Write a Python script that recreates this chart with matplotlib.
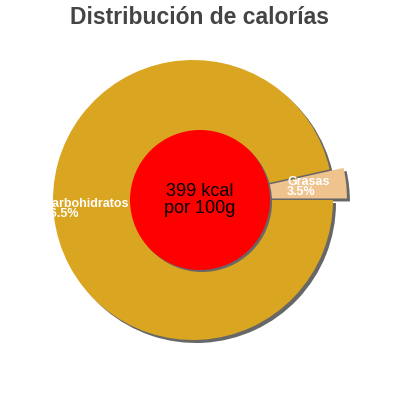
import matplotlib
matplotlib.use("Agg")
from matplotlib import pyplot as plt
from matplotlib.patches import Circle
import numpy as np

# calorie split per 100 g
labels = ["Grasas", "Carbohidratos"]
shares = [3.5, 96.5]
colors = ["#EFC38E", "#DAA520"]
total_kcal = 399

plt.rcParams['font.family'] = ['Liberation Sans', 'DejaVu Sans']

fig = plt.figure(figsize=(4, 4), dpi=100)
ax = fig.add_axes([0, 0, 1, 1])

center = (193, 200)
radius = 140
explode = [14, 0]
shadow_off = (3, -3)

# grey shadow underneath
ax.pie(shares, explode=explode, startangle=0, radius=radius,
       center=(center[0] + shadow_off[0], center[1] + shadow_off[1]),
       colors=["#676767"] * len(shares), wedgeprops=dict(linewidth=0))
wedges, _ = ax.pie(shares, explode=explode, startangle=0, radius=radius,
                   center=center, colors=colors, wedgeprops=dict(linewidth=0))

# red centre disc with its shadow
ax.add_patch(Circle((202, 198), 70, color="#676767", lw=0, zorder=3))
ax.add_patch(Circle((200, 200), 70, color="#FF0000", lw=0, zorder=4))
ax.text(200, 200, "{} kcal\npor 100g".format(total_kcal), ha="center", va="center",
        fontsize=13, color="black", zorder=5, linespacing=1.0)

# slice labels
label_pos = [(287, 213), (44, 191)]
for lab, val, (lx, ly) in zip(labels, shares, label_pos):
    ax.text(lx, ly, "{}\n{}%".format(lab, val), ha="left", va="center",
            fontsize=9, fontweight="bold", color="white", zorder=6, linespacing=0.85)

ax.text(200, 382, "Distribución de calorías", ha="center", va="center",
        fontsize=16.5, fontweight="bold", color="#444444")

ax.set_xlim(0, 400)
ax.set_ylim(0, 400)
ax.set_aspect("equal")
ax.axis("off")

plt.savefig("out.png", dpi=100)
